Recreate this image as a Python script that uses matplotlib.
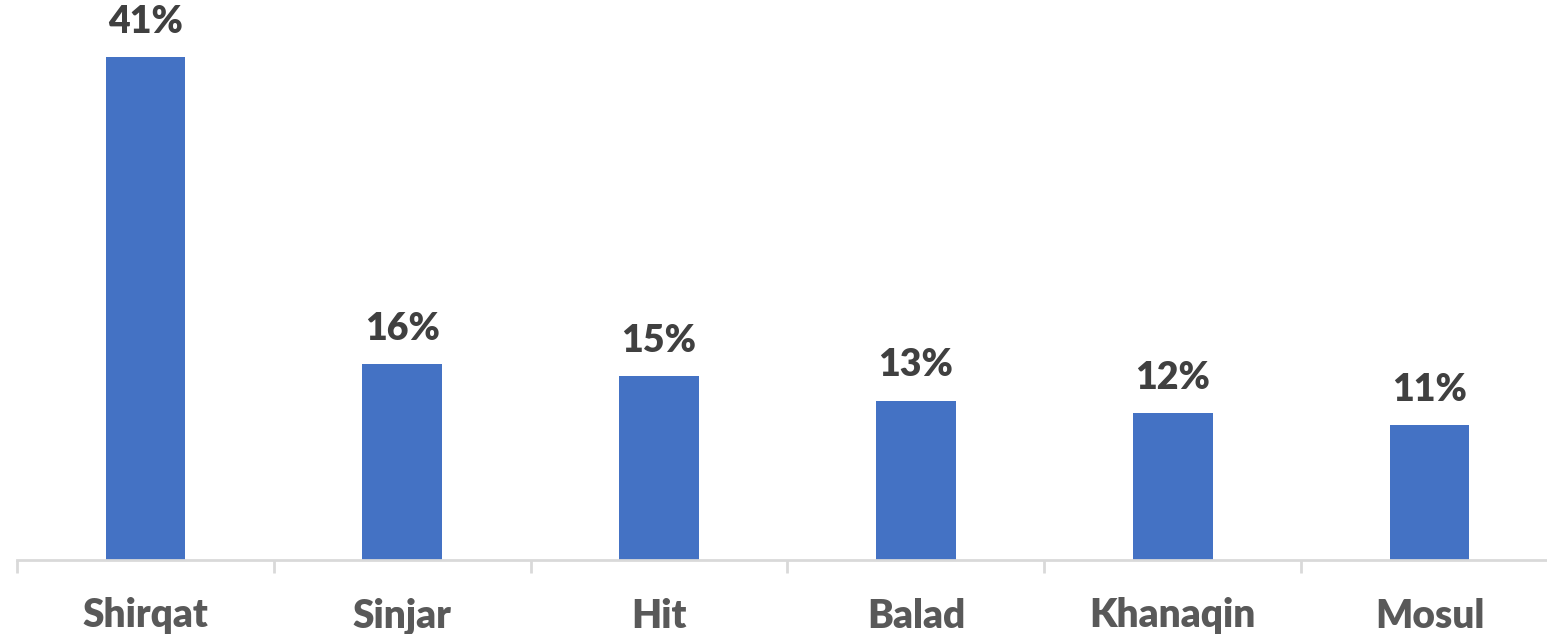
import matplotlib
matplotlib.use("Agg")
import matplotlib.pyplot as plt

categories = ["Shirqat", "Sinjar", "Hit", "Balad", "Khanaqin", "Mosul"]
values = [41, 16, 15, 13, 12, 11]
labels = ["41%", "16%", "15%", "13%", "12%", "11%"]

plt.rcParams['font.family'] = ['Lato', 'DejaVu Sans']

W, H = 1547, 634
fig = plt.figure(figsize=(W / 100, H / 100), dpi=100)
left = 17 / W
right = 1558 / W
bottom = (H - 560) / H
top = (H - 57) / H
ax = fig.add_axes([left, bottom, right - left, 1 - bottom])

x = list(range(len(categories)))
ax.bar(x, values, width=0.31, color="#4472C4", zorder=2)
ax.set_xlim(-0.5, len(categories) - 0.5)
ymax = 41 * (1 - bottom) / (top - bottom)
ax.set_ylim(0, ymax)

for xi, v, lab in zip(x, values, labels):
    ax.annotate(lab, (xi, v), xytext=(0, 17.3), textcoords="offset points",
                ha="center", va="baseline", fontsize=27, fontweight="heavy",
                color="#404040")

for s in ["top", "right", "left"]:
    ax.spines[s].set_visible(False)
ax.spines["bottom"].set_color("#D9D9D9")
ax.spines["bottom"].set_linewidth(2)
ax.set_yticks([])
ax.set_xticks([i - 0.5 for i in range(len(categories) + 1)], minor=False)
ax.set_xticklabels([])
ax.tick_params(axis="x", which="major", length=9.5, width=2, color="#D9D9D9")
ax.set_xticks(x, minor=True)
ax.set_xticklabels(categories, minor=True)
ax.tick_params(axis="x", which="minor", length=0, pad=27, labelsize=28,
               labelcolor="#595959")
for t in ax.get_xticklabels(minor=True):
    t.set_fontweight("heavy")

fig.savefig("out.png", dpi=100)
